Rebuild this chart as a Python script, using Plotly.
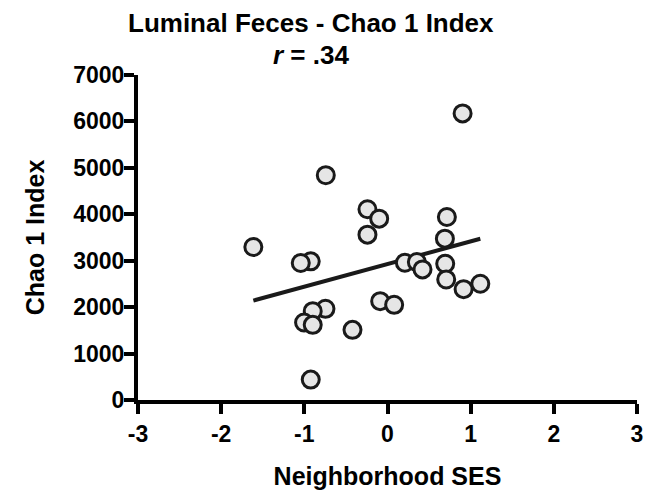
import numpy as np
import plotly.graph_objects as go

# Neighborhood SES score and Chao 1 richness per subject
ses = [0.903, -0.742, -0.241, -0.100, 0.714, -0.241, -1.613, 0.690, -0.923,
       -1.043, 0.209, 0.353, 0.421, 0.694, 0.706, 0.915, 1.116, -0.088,
       0.080, -0.746, -0.899, -1.003, -0.899, -0.421, -0.923]
chao1 = [6173, 4842, 4108, 3906, 3942, 3561, 3295, 3475, 2986,
         2950, 2957, 2971, 2813, 2935, 2597, 2388, 2504, 2129,
         2050, 1964, 1914, 1669, 1619, 1511, 439]

x_ticks = [-3, -2, -1, 0, 1, 2, 3]
y_ticks = [0, 1000, 2000, 3000, 4000, 5000, 6000, 7000]

# least-squares fit spanning the observed SES range
slope, intercept = np.polyfit(ses, chao1, 1)
fit_x = np.array([min(ses), max(ses)])
fit_y = slope * fit_x + intercept

FONT = "Liberation Sans, Arial, sans-serif"
INK = "#1a1a1a"

fig = go.Figure()
fig.add_trace(go.Scatter(
    x=fit_x, y=fit_y, mode="lines",
    line=dict(color=INK, width=4), showlegend=False, hoverinfo="skip"))
fig.add_trace(go.Scatter(
    x=ses, y=chao1, mode="markers",
    marker=dict(size=17, color="#e6e6e6", line=dict(color=INK, width=3)),
    showlegend=False))

axis_common = dict(
    showline=True, linecolor="black", linewidth=4,
    ticks="outside", ticklen=10, tickwidth=4, tickcolor="black",
    showgrid=False, zeroline=False, automargin=False,
    tickfont=dict(family=FONT, size=23, color="black", weight="bold"),
)

fig.update_xaxes(
    range=[-3, 3], tickvals=x_ticks, ticktext=[str(v) for v in x_ticks],
    title=dict(text="<b>Neighborhood SES</b>", standoff=24,
               font=dict(family=FONT, size=25, color="black")),
    **axis_common)
fig.update_yaxes(
    range=[0, 7000], tickvals=y_ticks, ticktext=[str(v) for v in y_ticks],
    ticklabelstandoff=-5,
    title=dict(text="<b>Chao 1 Index</b>", standoff=22,
               font=dict(family=FONT, size=25, color="black")),
    **axis_common)

title_x = (311 - 138) / (637 - 138)
fig.add_annotation(
    text="<b>Luminal Feces - Chao 1 Index</b>", xref="paper", yref="paper",
    x=title_x, y=1 + (75 - 23) / 325,
    showarrow=False, xanchor="center", yanchor="middle",
    font=dict(family=FONT, size=26, color="black"))
fig.add_annotation(
    text="<b><i>r</i> = .34</b>", xref="paper", yref="paper",
    x=title_x, y=1 + (75 - 55) / 325,
    showarrow=False, xanchor="center", yanchor="middle",
    font=dict(family=FONT, size=26, color="black"))

fig.update_layout(
    width=647, height=490,
    margin=dict(l=138, r=10, t=75, b=90),
    plot_bgcolor="white", paper_bgcolor="white",
)

fig.write_html("out.html")
